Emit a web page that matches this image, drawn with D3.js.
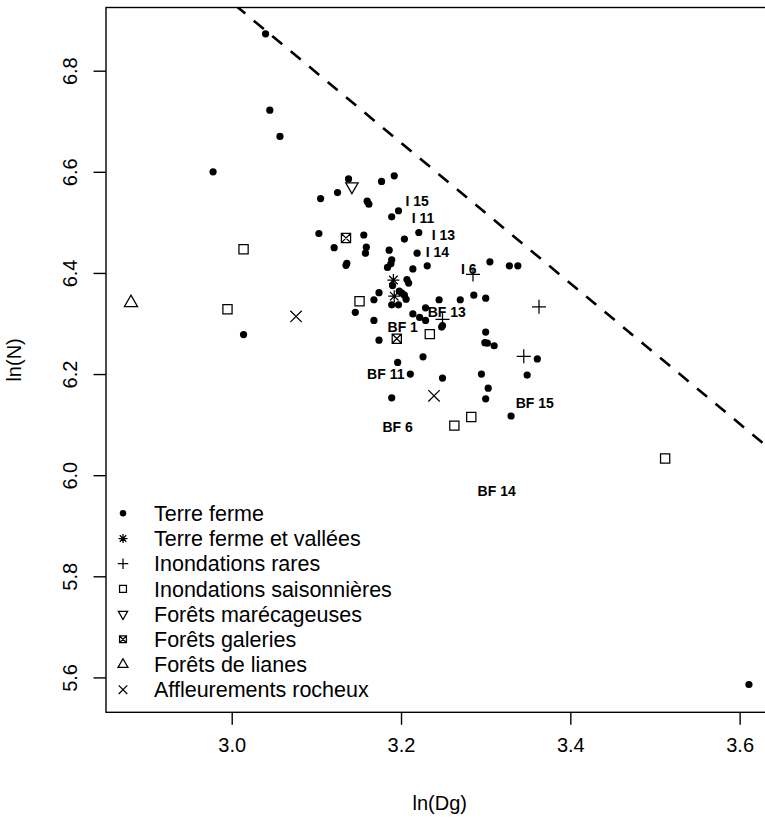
<!DOCTYPE html>
<html>
<head>
<meta charset="utf-8">
<script src="https://cdn.jsdelivr.net/npm/d3@7"></script>
<style>
  body { margin: 0; background: #fff; }
  svg { display: block; font-family: "Liberation Sans", Arial, sans-serif; }
</style>
</head>
<body>
<div id="chart"></div>
<script>
// values: [ln(Dg), ln(N)]
const terreFerme = [
  [3.040, 6.873], [3.045, 6.722], [3.057, 6.670], [2.978, 6.600], [3.014, 6.278],
  [3.105, 6.547], [3.125, 6.559], [3.103, 6.478], [3.121, 6.450], [3.138, 6.586],
  [3.177, 6.581], [3.192, 6.592], [3.160, 6.542], [3.162, 6.536], [3.197, 6.523],
  [3.189, 6.511], [3.156, 6.475], [3.221, 6.480], [3.204, 6.467], [3.159, 6.451],
  [3.158, 6.439], [3.186, 6.445], [3.219, 6.439], [3.189, 6.426], [3.188, 6.418],
  [3.184, 6.411], [3.136, 6.419], [3.135, 6.415], [3.214, 6.408], [3.231, 6.414],
  [3.305, 6.422], [3.328, 6.414], [3.338, 6.414], [3.190, 6.375], [3.207, 6.387],
  [3.209, 6.380], [3.174, 6.361], [3.198, 6.364], [3.201, 6.360], [3.204, 6.356],
  [3.168, 6.347], [3.189, 6.337], [3.197, 6.337], [3.206, 6.348], [3.245, 6.347],
  [3.270, 6.347], [3.286, 6.356], [3.300, 6.350], [3.146, 6.322], [3.229, 6.331],
  [3.214, 6.319], [3.222, 6.312], [3.229, 6.306], [3.249, 6.296], [3.248, 6.293],
  [3.168, 6.306], [3.174, 6.267], [3.300, 6.283], [3.299, 6.262], [3.302, 6.261],
  [3.310, 6.256], [3.196, 6.223], [3.226, 6.234], [3.361, 6.230], [3.211, 6.200],
  [3.249, 6.192], [3.295, 6.200], [3.349, 6.198], [3.303, 6.172], [3.189, 6.153],
  [3.300, 6.151], [3.330, 6.117], [3.611, 5.586]
];
const terreFermeVallees = [[3.191, 6.386], [3.192, 6.354]];
const inondationsRares = [[3.285, 6.397], [3.249, 6.308], [3.363, 6.333], [3.345, 6.235]];
const inondationsSaisonnieres = [
  [3.014, 6.447], [2.995, 6.328], [3.151, 6.344], [3.234, 6.279],
  [3.283, 6.115], [3.263, 6.098], [3.512, 6.033]
];
const foretsMarecageuses = [[3.142, 6.571]];
const foretsGaleries = [[3.135, 6.469], [3.195, 6.270]];
const foretsLianes = [[2.881, 6.341]];
const affleurementsRocheux = [[3.076, 6.314], [3.239, 6.157]];

const pointLabels = ["I 15", "I 11", "I 13", "I 14", "I 6", "BF 13", "BF 1", "BF 11", "BF 15", "BF 6", "BF 14"];
const labelX = [3.219, 3.226, 3.250, 3.243, 3.280, 3.254, 3.202, 3.182, 3.358, 3.196, 3.313];
const labelY = [6.542, 6.508, 6.475, 6.442, 6.407, 6.323, 6.294, 6.200, 6.143, 6.096, 5.969];

// dashed limit line, two points
const limitX = [3.057, 3.630];
const limitY = [6.856, 6.060];

const xTicks = [3.0, 3.2, 3.4, 3.6];
const yTicks = [5.6, 5.8, 6.0, 6.2, 6.4, 6.6, 6.8];

const legendLabels = [
  "Terre ferme", "Terre ferme et vallées", "Inondations rares", "Inondations saisonnières",
  "Forêts marécageuses", "Forêts galeries", "Forêts de lianes", "Affleurements rocheux"
];
const legendKinds = ["dot", "star", "plus", "square", "triDown", "squareX", "triUp", "cross"];

const series = [
  { kind: "dot", data: terreFerme },
  { kind: "star", data: terreFermeVallees },
  { kind: "plus", data: inondationsRares },
  { kind: "square", data: inondationsSaisonnieres },
  { kind: "triDown", data: foretsMarecageuses },
  { kind: "squareX", data: foretsGaleries },
  { kind: "triUp", data: foretsLianes },
  { kind: "cross", data: affleurementsRocheux }
];

const W = 765, H = 819;
const plot = { left: 106, right: 773.5, top: 7.5, bottom: 712.3 };

const x = d3.scaleLinear().domain([2.8515, 3.640]).range([plot.left, plot.right]);
const y = d3.scaleLinear().domain([5.531, 6.925]).range([plot.bottom, plot.top]);

// R-like point symbols, s = size factor
function symbolPath(kind, s) {
  const p = d3.path();
  if (kind === "star") {
    const a = 6 * s, b = 4.3 * s;
    p.moveTo(-a, 0); p.lineTo(a, 0);
    p.moveTo(0, -a); p.lineTo(0, a);
    p.moveTo(-b, -b); p.lineTo(b, b);
    p.moveTo(-b, b); p.lineTo(b, -b);
  } else if (kind === "plus") {
    const a = 7 * s;
    p.moveTo(-a, 0); p.lineTo(a, 0);
    p.moveTo(0, -a); p.lineTo(0, a);
  } else if (kind === "square" || kind === "squareX") {
    const a = 4.6 * s;
    p.rect(-a, -a, 2 * a, 2 * a);
    if (kind === "squareX") {
      p.moveTo(-a, -a); p.lineTo(a, a);
      p.moveTo(-a, a); p.lineTo(a, -a);
    }
  } else if (kind === "triDown") {
    const xc = 4.6 * s;
    p.moveTo(0, 1.555 * xc);
    p.lineTo(1.347 * xc, -0.778 * xc);
    p.lineTo(-1.347 * xc, -0.778 * xc);
    p.closePath();
  } else if (kind === "triUp") {
    const xc = 4.9 * s;
    p.moveTo(0, -1.555 * xc);
    p.lineTo(1.347 * xc, 0.778 * xc);
    p.lineTo(-1.347 * xc, 0.778 * xc);
    p.closePath();
  } else if (kind === "cross") {
    const a = 5.7 * s;
    p.moveTo(-a, -a); p.lineTo(a, a);
    p.moveTo(-a, a); p.lineTo(a, -a);
  }
  return p.toString();
}

function drawSymbol(g, kind, s) {
  if (kind === "dot") {
    g.append("circle").attr("r", 3.6 * s).attr("fill", "#000");
  } else {
    g.append("path")
      .attr("d", symbolPath(kind, s))
      .attr("fill", "none")
      .attr("stroke", "#000")
      .attr("stroke-width", 1.25);
  }
}

const svg = d3.select("#chart").append("svg")
  .attr("width", W)
  .attr("height", H);

svg.append("rect").attr("width", W).attr("height", H).attr("fill", "#fff");

svg.append("defs").append("clipPath")
  .attr("id", "plot-clip")
  .append("rect")
  .attr("x", plot.left)
  .attr("y", plot.top)
  .attr("width", plot.right - plot.left)
  .attr("height", plot.bottom - plot.top);

// dashed line, extended across the plot and clipped
const slope = (limitY[1] - limitY[0]) / (limitX[1] - limitX[0]);
const xs = x.domain();
svg.append("line")
  .attr("clip-path", "url(#plot-clip)")
  .attr("x1", x(xs[0]))
  .attr("y1", y(limitY[0] + slope * (xs[0] - limitX[0])))
  .attr("x2", x(xs[1]))
  .attr("y2", y(limitY[0] + slope * (xs[1] - limitX[0])))
  .attr("stroke", "#000")
  .attr("stroke-width", 2.6)
  .attr("stroke-dasharray", "13,11");

// points
const pts = svg.append("g").attr("clip-path", "url(#plot-clip)");
series.forEach(sr => {
  sr.data.forEach(d => {
    const g = pts.append("g").attr("transform", `translate(${x(d[0])},${y(d[1])})`);
    drawSymbol(g, sr.kind, 1);
  });
});

// point labels
svg.append("g").selectAll("text")
  .data(pointLabels)
  .join("text")
  .attr("x", (d, i) => x(labelX[i]))
  .attr("y", (d, i) => y(labelY[i]))
  .attr("dy", "0.36em")
  .attr("text-anchor", "middle")
  .style("font-size", "14px")
  .style("font-weight", "bold")
  .text(d => d);

// box
svg.append("rect")
  .attr("x", plot.left)
  .attr("y", plot.top)
  .attr("width", plot.right - plot.left)
  .attr("height", plot.bottom - plot.top)
  .attr("fill", "none")
  .attr("stroke", "#000")
  .attr("stroke-width", 1.4);

// axes
const xAxis = svg.append("g")
  .attr("transform", `translate(0,${plot.bottom})`)
  .call(d3.axisBottom(x).tickValues(xTicks).tickSize(12.5).tickSizeOuter(0).tickFormat(d3.format(".1f")));
xAxis.select(".domain").remove();
xAxis.selectAll("line").attr("stroke", "#000").attr("stroke-width", 1.4);
xAxis.selectAll("text")
  .attr("y", 40)
  .attr("dy", null)
  .attr("fill", "#000")
  .style("font-size", "20px")
  .style("font-family", "'Liberation Sans', Arial, sans-serif");

const yAxis = svg.append("g")
  .attr("transform", `translate(${plot.left},0)`)
  .call(d3.axisLeft(y).tickValues(yTicks).tickSize(12.5).tickSizeOuter(0).tickFormat(d3.format(".1f")));
yAxis.select(".domain").remove();
yAxis.selectAll("line").attr("stroke", "#000").attr("stroke-width", 1.4);
yAxis.selectAll("text")
  .attr("x", 0)
  .attr("y", -29)
  .attr("dy", null)
  .attr("transform", "rotate(-90)")
  .attr("text-anchor", "middle")
  .attr("fill", "#000")
  .style("font-size", "20px")
  .style("font-family", "'Liberation Sans', Arial, sans-serif");

// axis titles
svg.append("text")
  .attr("x", (plot.left + plot.right) / 2)
  .attr("y", 810)
  .attr("text-anchor", "middle")
  .style("font-size", "20px")
  .text("ln(Dg)");

svg.append("text")
  .attr("transform", `translate(21,${(plot.top + plot.bottom) / 2}) rotate(-90)`)
  .attr("text-anchor", "middle")
  .style("font-size", "20px")
  .text("ln(N)");

// legend
const legend = svg.append("g").attr("transform", "translate(123,513.3)");
legendLabels.forEach((label, i) => {
  const row = legend.append("g").attr("transform", `translate(0,${i * 25.2})`);
  drawSymbol(row, legendKinds[i], legendKinds[i] === "dot" ? 0.9 : 0.75);
  row.append("text")
    .attr("x", 31)
    .attr("dy", "0.36em")
    .style("font-size", "21.5px")
    .text(label);
});
</script>
</body>
</html>
